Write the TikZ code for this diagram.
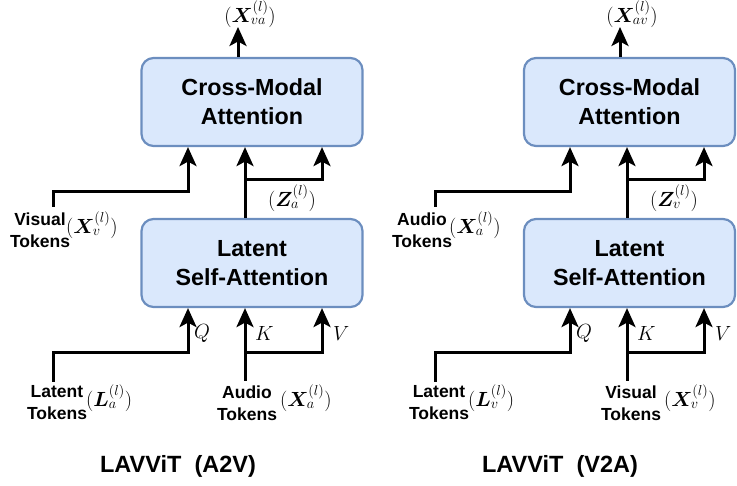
\documentclass[tikz,border=0pt]{standalone}
\usepackage{fix-cm}
\usepackage{amsmath,bm}
\usepackage{fontspec}
\setsansfont{Liberation Sans}
\usetikzlibrary{arrows.meta}

\definecolor{boxfill}{HTML}{DAE8FC}
\definecolor{boxline}{HTML}{6C8EBF}

\tikzset{
  block/.style={draw=boxline, fill=boxfill, line width=2.2pt, rounded corners=12pt,
    minimum width=221pt, minimum height=88pt, inner sep=0pt, align=center,
    font=\fontsize{23.3}{29}\selectfont\sffamily\bfseries},
  flow/.style={line width=3pt, -{Stealth[length=19pt,width=17pt,inset=4.5pt]}},
  tok/.style={inner sep=0pt, align=center, font=\fontsize{17.5}{22}\selectfont\sffamily\bfseries},
  mlab/.style={inner sep=0pt, font=\fontsize{20.5}{24}\selectfont},
  caption/.style={inner sep=0pt, font=\fontsize{23.5}{27}\selectfont\sffamily\bfseries}
}

\begin{document}
\begin{tikzpicture}[x=1pt, y=-1pt]
\useasboundingbox (0,0) rectangle (737,486);

% ---------------- A2V ----------------
\begin{scope}
  \coordinate (qxA) at (188,0);
  \coordinate (kxA) at (245,0);
  \coordinate (vxA) at (322,0);
  \coordinate (oxA) at (238,0);

  \node[block] (cmA) at (252,102) {Cross-Modal\\Attention};
  \node[block] (lsA) at (252,263) {Latent\\Self-Attention};

  % output
  \coordinate (outA) at (238,27);
  \node[mlab] (oA) at (250,14) {$(\bm{X}_{va}^{(l)})$};
  \draw[flow] (cmA.north -| oxA) -- (outA);

  % cross-modal inputs
  \node[tok] (vtA) at (40,230) {Visual\\Tokens};
  \node[mlab, anchor=west] (vmA) at (66,225) {$(\bm{X}_{v}^{(l)})$};
  \coordinate (vsA) at (53,207);
  \draw[flow] (vsA) -- ++(0,-15) -| (cmA.south -| qxA);
  \draw[flow] (lsA.north -| kxA) -- (cmA.south -| kxA);
  \coordinate (zbA) at (245,180);
  \draw[flow] (zbA) -| (cmA.south -| vxA);
  \node[mlab] (zA) at (292,198) {$(\bm{Z}_{a}^{(l)})$};

  % self-attention inputs
  \node[tok] (ltA) at (57,403) {Latent\\Tokens};
  \node[mlab, anchor=west] (lmA) at (86,398) {$(\bm{L}_{a}^{(l)})$};
  \node[tok] (atA) at (247,403) {Audio\\Tokens};
  \node[mlab, anchor=west] (amA) at (280,398) {$(\bm{X}_{a}^{(l)})$};
  \coordinate (lsrcA) at (53,382);
  \coordinate (asrcA) at (245,381);
  \draw[flow] (lsrcA) -- ++(0,-29) -| (lsA.south -| qxA);
  \draw[flow] (asrcA) -- (lsA.south -| kxA);
  \coordinate (kbA) at (245,353);
  \draw[flow] (kbA) -| (lsA.south -| vxA);
  \node[mlab, anchor=west] (qA) at (194,333) {$Q$};
  \node[mlab, anchor=west] (kA) at (255,333) {$K$};
  \node[mlab, anchor=west] (vA) at (333,333) {$V$};

  \node[caption] (tA) at (178,466) {LAVViT\ \ (A2V)};
\end{scope}

% ---------------- V2A ----------------
\begin{scope}[xshift=382pt]
  \coordinate (qxB) at (188,0);
  \coordinate (kxB) at (245,0);
  \coordinate (vxB) at (322,0);
  \coordinate (oxB) at (238,0);

  \node[block, minimum width=211pt] (cmB) at (247.5,102) {Cross-Modal\\Attention};
  \node[block, minimum width=211pt] (lsB) at (247.5,263) {Latent\\Self-Attention};

  % output
  \coordinate (outB) at (238,27);
  \node[mlab] (oB) at (250,14) {$(\bm{X}_{av}^{(l)})$};
  \draw[flow] (cmB.north -| oxB) -- (outB);

  % cross-modal inputs
  \node[tok] (vtB) at (40,230) {Audio\\Tokens};
  \node[mlab, anchor=west] (vmB) at (67,225) {$(\bm{X}_{a}^{(l)})$};
  \coordinate (vsB) at (53,207);
  \draw[flow] (vsB) -- ++(0,-15) -| (cmB.south -| qxB);
  \draw[flow] (lsB.north -| kxB) -- (cmB.south -| kxB);
  \coordinate (zbB) at (245,180);
  \draw[flow] (zbB) -| (cmB.south -| vxB);
  \node[mlab] (zB) at (292,198) {$(\bm{Z}_{v}^{(l)})$};

  % self-attention inputs
  \node[tok] (ltB) at (57,403) {Latent\\Tokens};
  \node[mlab, anchor=west] (lmB) at (86,398) {$(\bm{L}_{v}^{(l)})$};
  \node[tok] (atB) at (249,403) {Visual\\Tokens};
  \node[mlab, anchor=west] (amB) at (282,398) {$(\bm{X}_{v}^{(l)})$};
  \coordinate (lsrcB) at (53,382);
  \coordinate (asrcB) at (245,381);
  \draw[flow] (lsrcB) -- ++(0,-29) -| (lsB.south -| qxB);
  \draw[flow] (asrcB) -- (lsB.south -| kxB);
  \coordinate (kbB) at (245,353);
  \draw[flow] (kbB) -| (lsB.south -| vxB);
  \node[mlab, anchor=west] (qB) at (194,333) {$Q$};
  \node[mlab, anchor=west] (kB) at (255,333) {$K$};
  \node[mlab, anchor=west] (vB) at (333,333) {$V$};

  \node[caption] (tB) at (178,466) {LAVViT\ \ (V2A)};
\end{scope}
\end{tikzpicture}
\end{document}
